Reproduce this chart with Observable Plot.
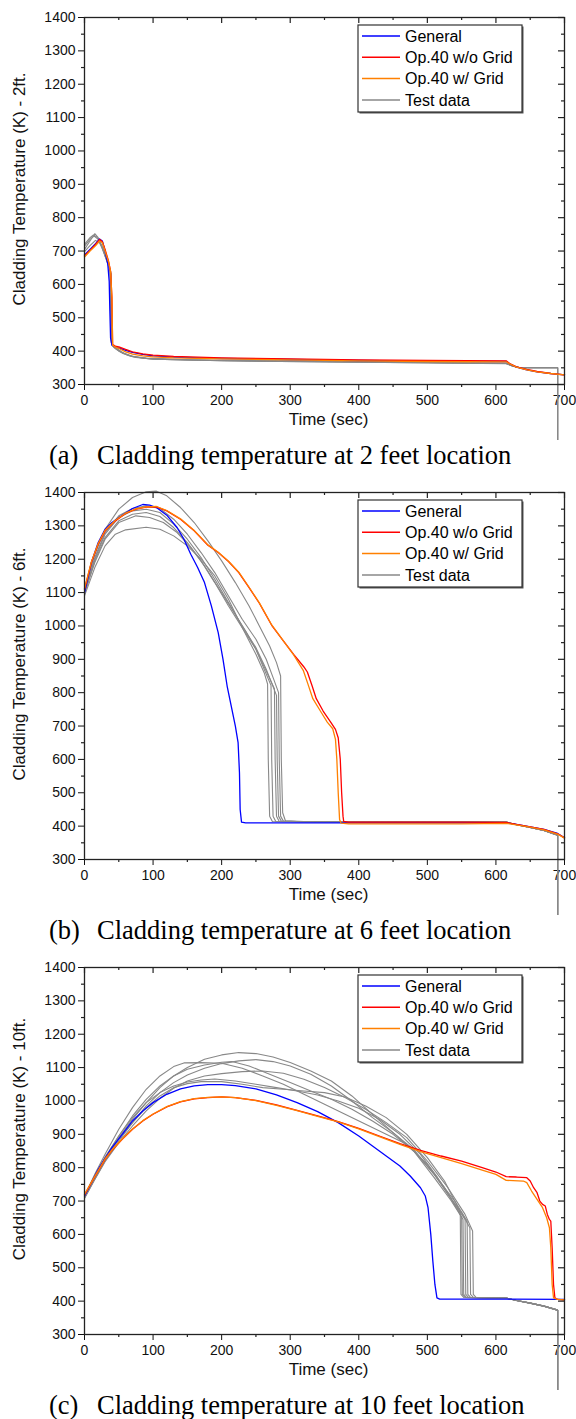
<!DOCTYPE html>
<html><head><meta charset="utf-8">
<script src="https://cdn.jsdelivr.net/npm/d3@7"></script>
<script src="https://cdn.jsdelivr.net/npm/@observablehq/plot@0.6"></script>
<style>
body{margin:0;background:#fff;width:576px;}
.panel{width:576px;height:475px;position:relative;}
.cap{height:35px;line-height:30px;font-family:"Liberation Serif","Times New Roman",serif;font-size:26.5px;color:#000;padding-left:49px;white-space:nowrap;}
.cap .lab{display:inline-block;width:48px;}
</style></head><body><div id="chart"></div><script>
// ---- axis ticks ----
const xTicks = [0,100,200,300,400,500,600,700];
const xMinorTicks = [50,150,250,350,450,550,650];
const yTicks = [300,400,500,600,700,800,900,1000,1100,1200,1300,1400];
const yMinorTicks = [350,450,550,650,750,850,950,1050,1150,1250,1350];
const xLabel = "Time (sec)";

// ---- legend ----
const seriesNames = ["General", "Op.40 w/o Grid", "Op.40 w/ Grid", "Test data"];
const seriesColors = ["#0000ff", "#ff0000", "#ff8000", "#888888"];

// ---- panel (a) 2 ft : [time (s), temperature (K)] ----
const a_general = [[0,688],[8,705],[16,722],[22,736],[26,730],[30,700],[34,660],[36,610],[37,520],[38,440],[40,418],[45,413],[50,410],[60,402],[70,396],[85,390],[100,386],[130,382],[200,378],[300,375],[400,372],[500,370],[615,369],[620,362],[630,352],[645,344],[660,338],[680,333],[700,329]];
const a_red = [[0,685],[8,702],[16,720],[22,735],[26,728],[30,705],[35,670],[38,640],[40,560],[41,420],[45,415],[50,413],[60,405],[70,398],[85,392],[100,388],[130,384],[200,380],[300,377],[400,374],[500,372],[615,371],[620,363],[630,353],[645,345],[660,339],[680,333],[700,329]];
const a_orange = [[0,682],[8,700],[16,716],[22,730],[26,725],[30,700],[35,668],[38,640],[40,560],[41,418],[45,412],[50,408],[60,398],[70,391],[85,386],[100,383],[130,380],[200,377],[300,374],[400,371],[500,369],[615,368],[620,362],[630,352],[645,344],[660,338],[680,333],[700,329]];
const a_test1 = [[0,705],[8,730],[15,752],[20,740],[25,715],[30,685],[35,655],[39,632],[40,420],[45,410],[55,396],[70,384],[90,378],[120,375],[200,372],[300,370],[400,368],[500,366],[615,364]];
const a_test2 = [[0,715],[8,735],[14,745],[20,735],[25,712],[30,685],[35,660],[38,640],[39,430],[42,414],[50,403],[60,391],[75,381],[100,376],[200,371],[400,367],[615,363]];
const a_test3 = [[0,698],[8,716],[16,732],[22,725],[28,700],[33,670],[37,645],[39,425],[43,411],[50,400],[65,386],[90,379],[150,374],[300,370],[500,366],[615,363]];
const a_test4 = [[0,720],[8,740],[13,748],[18,742],[25,718],[30,690],[36,655],[39,600],[40,418],[45,408],[55,394],[70,383],[100,376],[200,371],[400,367],[615,362]];
const a_testTail = [[625,355],[635,350],[690,350],[690,0]];

// ---- panel (b) 6 ft ----
const b_general = [[0,1100],[10,1190],[20,1250],[30,1290],[40,1310],[55,1332],[70,1352],[85,1364],[95,1362],[105,1355],[120,1332],[135,1295],[145,1260],[155,1215],[165,1175],[175,1130],[185,1060],[195,980],[202,900],[208,820],[214,760],[220,700],[224,650],[226,560],[227,450],[229,412],[235,410],[300,410],[400,410],[500,410],[615,410],[630,405],[650,398],[670,390],[690,378],[700,365]];
const b_red = [[0,1110],[10,1190],[20,1245],[30,1285],[45,1315],[60,1337],[75,1350],[90,1356],[105,1357],[120,1345],[140,1320],[160,1285],[180,1242],[195,1220],[210,1193],[225,1160],[240,1115],[255,1068],[273,1002],[290,955],[305,915],[320,877],[325,862],[332,820],[338,782],[348,745],[359,712],[366,690],[370,665],[373,600],[375,500],[377,430],[378,414],[385,412],[450,412],[550,412],[615,411],[630,405],[650,398],[670,390],[690,377],[700,365]];
const b_orange = [[0,1112],[10,1192],[20,1247],[30,1287],[45,1317],[60,1338],[75,1351],[90,1357],[105,1358],[120,1346],[140,1321],[160,1286],[180,1243],[195,1221],[210,1194],[225,1161],[240,1116],[255,1069],[273,1003],[290,955],[305,913],[319,867],[326,825],[333,782],[344,745],[354,712],[362,692],[366,660],[368,600],[370,500],[372,420],[374,409],[385,407],[450,407],[550,407],[615,408],[630,404],[650,397],[670,389],[690,376],[700,364]];
const b_test1 = [[0,1100],[15,1215],[30,1290],[50,1350],[70,1385],[90,1402],[105,1404],[120,1390],[140,1355],[160,1310],[180,1255],[200,1195],[220,1130],[240,1060],[255,1000],[270,940],[280,890],[286,850],[287,600],[289,440],[293,416],[320,414],[615,412]];
const b_test2 = [[0,1095],[15,1205],[30,1280],[50,1330],[70,1352],[90,1360],[110,1352],[130,1320],[150,1275],[170,1220],[190,1160],[210,1090],[230,1020],[250,960],[265,900],[276,840],[283,800],[284,600],[286,430],[290,415],[320,413],[615,412]];
const b_test3 = [[0,1105],[15,1200],[30,1275],[50,1325],[70,1345],[90,1350],[110,1340],[130,1305],[150,1260],[170,1205],[190,1140],[210,1070],[230,1000],[250,935],[265,870],[280,792],[281,600],[283,430],[287,415],[320,413],[615,412]];
const b_test4 = [[0,1100],[15,1195],[30,1265],[50,1315],[70,1335],[90,1340],[110,1328],[130,1295],[150,1250],[170,1195],[190,1130],[210,1060],[230,995],[250,930],[265,865],[277,812],[278,600],[280,430],[284,414],[320,413],[615,412]];
const b_test5 = [[0,1098],[15,1190],[30,1260],[50,1310],[75,1330],[95,1325],[115,1310],[135,1280],[155,1235],[175,1180],[195,1115],[215,1050],[235,985],[250,930],[262,870],[272,822],[273,600],[275,430],[279,414],[320,413],[615,412]];
const b_test6 = [[0,1090],[15,1175],[30,1240],[45,1275],[60,1288],[90,1296],[110,1290],[130,1270],[150,1240],[170,1200],[190,1150],[210,1080],[230,995],[250,915],[262,860],[267,826],[268,600],[270,430],[274,414],[320,413],[615,412]];
const b_testTail = [[630,404],[650,396],[670,387],[690,373],[690,0]];

// ---- panel (c) 10 ft ----
const c_general = [[0,715],[10,755],[20,795],[30,828],[40,860],[55,900],[70,940],[85,970],[100,995],[120,1020],[140,1036],[160,1045],[180,1049],[200,1049],[220,1046],[250,1036],[280,1018],[310,995],[340,968],[370,935],[400,895],[420,865],[440,835],[460,805],[475,775],[490,740],[497,715],[501,680],[505,600],[508,520],[511,450],[514,410],[518,406],[600,406],[700,405]];
const c_red = [[0,718],[10,755],[20,790],[30,825],[40,852],[55,885],[70,915],[85,940],[100,960],[120,982],[140,997],[160,1006],[180,1010],[200,1012],[220,1010],[250,1002],[280,988],[310,972],[340,955],[370,938],[400,918],[430,895],[460,872],[490,852],[520,835],[550,820],[580,800],[600,787],[615,773],[630,772],[645,770],[650,760],[655,740],[660,725],[664,700],[668,690],[672,685],[675,660],[678,645],[680,640],[682,560],[684,450],[686,410],[690,405],[700,404]];
const c_orange = [[0,720],[10,756],[20,791],[30,826],[40,853],[55,886],[70,916],[85,941],[100,961],[120,983],[140,998],[160,1007],[180,1011],[200,1012],[220,1010],[250,1001],[280,987],[310,971],[340,954],[370,937],[400,916],[430,893],[460,870],[490,848],[520,830],[550,812],[580,793],[600,780],[615,762],[640,760],[645,755],[652,730],[660,705],[668,680],[674,650],[678,620],[680,560],[682,450],[684,410],[690,405],[700,404]];
const c_test1 = [[0,712],[15,770],[30,825],[50,890],[70,945],[90,995],[110,1040],[130,1075],[150,1100],[175,1125],[200,1138],[225,1145],[250,1142],[275,1132],[300,1115],[330,1090],[360,1060],[390,1015],[420,960],[450,905],[480,855],[510,780],[530,720],[550,665],[562,620],[563,420],[567,411],[615,409]];
const c_test2 = [[0,708],[15,765],[30,820],[50,880],[70,935],[90,985],[110,1025],[130,1055],[150,1078],[175,1098],[200,1112],[225,1120],[250,1124],[275,1118],[300,1105],[330,1080],[360,1045],[390,1000],[420,950],[450,905],[480,850],[510,770],[535,700],[552,645],[553,420],[557,411],[615,409]];
const c_test3 = [[0,715],[15,780],[30,840],[50,915],[70,980],[90,1035],[110,1075],[130,1103],[145,1114],[170,1115],[200,1113],[230,1098],[260,1075],[290,1050],[320,1020],[350,990],[380,960],[410,930],[440,900],[470,870],[500,810],[525,740],[545,670],[550,652],[551,420],[555,411],[615,409]];
const c_test4 = [[0,712],[15,772],[30,830],[50,895],[70,955],[90,1005],[110,1045],[130,1075],[150,1095],[175,1108],[200,1116],[215,1118],[240,1105],[270,1080],[300,1055],[330,1030],[360,1005],[390,975],[420,940],[450,900],[480,850],[510,780],[540,700],[558,640],[559,420],[563,411],[615,409]];
const c_test5 = [[0,710],[15,765],[30,818],[50,875],[70,925],[90,970],[110,1008],[130,1038],[150,1060],[175,1075],[200,1082],[230,1088],[260,1090],[290,1083],[320,1065],[350,1040],[380,1010],[410,975],[440,935],[470,890],[500,820],[530,740],[555,660],[566,610],[567,420],[571,411],[615,409]];
const c_test6 = [[0,714],[15,775],[30,832],[50,895],[70,950],[90,995],[110,1025],[130,1045],[150,1057],[170,1063],[190,1066],[220,1060],[250,1050],[280,1040],[310,1030],[340,1018],[370,1000],[400,978],[430,945],[460,900],[490,840],[515,770],[540,690],[555,645],[556,420],[560,411],[615,409]];
const c_test7 = [[0,710],[15,770],[30,825],[50,885],[70,935],[90,980],[110,1015],[130,1040],[150,1052],[170,1058],[200,1058],[230,1050],[260,1040],[290,1035],[320,1030],[350,1025],[380,1012],[410,985],[440,950],[470,900],[500,830],[525,760],[545,680],[548,662],[549,420],[553,411],[615,409]];
const c_testTail = [[630,402],[650,394],[670,385],[690,373],[690,0]];

const panels = [
  {tag:"(a)", caption:"Cladding temperature at 2 feet location", yLabel:"Cladding Temperature (K) - 2ft.",
   general:a_general, red:a_red, orange:a_orange, tests:[a_test1,a_test2,a_test3,a_test4], tail:a_testTail},
  {tag:"(b)", caption:"Cladding temperature at 6 feet location", yLabel:"Cladding Temperature (K) - 6ft.",
   general:b_general, red:b_red, orange:b_orange, tests:[b_test1,b_test2,b_test3,b_test4,b_test5,b_test6], tail:b_testTail},
  {tag:"(c)", caption:"Cladding temperature at 10 feet location", yLabel:"Cladding Temperature (K) - 10ft.",
   general:c_general, red:c_red, orange:c_orange, tests:[c_test1,c_test2,c_test3,c_test4,c_test5,c_test6,c_test7], tail:c_testTail}
];

const W = 576, H = 440, ML = 84, MR = 12, MT = 17, MB = 56;
const PW = W - ML - MR, PH = H - MT - MB;
const axisColor = "#222";

function legendMark(index, scales, values, dims) {
  const right = dims.width - dims.marginRight - 42;
  const w = 164, h = 87;
  const left = right - w, top = dims.marginTop + 8;
  const g = d3.create("svg:g");
  g.append("rect").attr("x", left + 1.5).attr("y", top + 1.5).attr("width", w).attr("height", h)
    .attr("fill", "#555");
  g.append("rect").attr("x", left).attr("y", top).attr("width", w).attr("height", h)
    .attr("fill", "white").attr("stroke", "#333").attr("stroke-width", 1.2);
  seriesNames.forEach((name, i) => {
    const cy = top + 11 + i * 21.3;
    g.append("line").attr("x1", left + 4).attr("x2", left + 42).attr("y1", cy).attr("y2", cy)
      .attr("stroke", seriesColors[i]).attr("stroke-width", 1.5);
    g.append("text").attr("x", left + 47).attr("y", cy).attr("dy", "0.36em")
      .attr("text-anchor", "start")
      .attr("font-size", 16).attr("fill", "#000").text(name);
  });
  return g.node();
}

const root = document.getElementById("chart");
for (const p of panels) {
  const xy = {x: d => d[0], y: d => d[1]};
  const marks = [];
  for (const t of p.tests) {
    marks.push(Plot.line(t.concat(p.tail), {...xy, stroke: seriesColors[3], strokeWidth: 1.1}));
  }
  marks.push(Plot.line(p.general, {...xy, stroke: seriesColors[0], strokeWidth: 1.3}));
  marks.push(Plot.line(p.red, {...xy, stroke: seriesColors[1], strokeWidth: 1.3}));
  marks.push(Plot.line(p.orange, {...xy, stroke: seriesColors[2], strokeWidth: 1.3}));
  // minor / mirrored ticks
  marks.push(Plot.tickY(yMinorTicks, {y: d => d, insetLeft: -3, insetRight: PW, stroke: axisColor, strokeWidth: 1.2}));
  marks.push(Plot.tickY(yTicks, {y: d => d, insetLeft: PW - 6, stroke: axisColor, strokeWidth: 1.2}));
  marks.push(Plot.tickY(yMinorTicks, {y: d => d, insetLeft: PW - 3, stroke: axisColor, strokeWidth: 1.2}));
  marks.push(Plot.tickX(xMinorTicks, {x: d => d, insetTop: PH, insetBottom: -3, stroke: axisColor, strokeWidth: 1.2}));
  marks.push(Plot.tickX(xTicks, {x: d => d, insetBottom: PH - 6, stroke: axisColor, strokeWidth: 1.2}));
  marks.push(Plot.tickX(xMinorTicks, {x: d => d, insetBottom: PH - 3, stroke: axisColor, strokeWidth: 1.2}));
  marks.push(Plot.frame({stroke: axisColor, strokeWidth: 1.3}));
  marks.push(Plot.text([p.yLabel], {text: d => d, frameAnchor: "left", textAnchor: "middle", dx: -65, dy: -12, rotate: -90, fontSize: 17, fill: "#111"}));
  marks.push(Plot.text([xLabel], {text: d => d, frameAnchor: "bottom", textAnchor: "middle", dx: 4, dy: 40, fontSize: 17, fill: "#111"}));
  marks.push(legendMark);

  const svg = Plot.plot({
    width: W, height: H, marginLeft: ML, marginRight: MR, marginTop: MT, marginBottom: MB,
    style: {fontFamily: "'Liberation Sans', Arial, sans-serif", fontSize: "14px", background: "white", overflow: "hidden", color: "#111"},
    x: {domain: [0, 700], ticks: xTicks, tickSize: 6, tickPadding: 5, tickFormat: d => String(d), label: null},
    y: {domain: [300, 1400], ticks: yTicks, tickSize: 6, tickPadding: 3, tickFormat: d => String(d), label: null},
    marks
  });
  const div = document.createElement("div");
  div.className = "panel";
  div.appendChild(svg);
  const cap = document.createElement("div");
  cap.className = "cap";
  const lab = document.createElement("span");
  lab.className = "lab";
  lab.textContent = p.tag;
  cap.appendChild(lab);
  cap.appendChild(document.createTextNode(p.caption));
  div.appendChild(cap);
  root.appendChild(div);
}
</script></body></html>
